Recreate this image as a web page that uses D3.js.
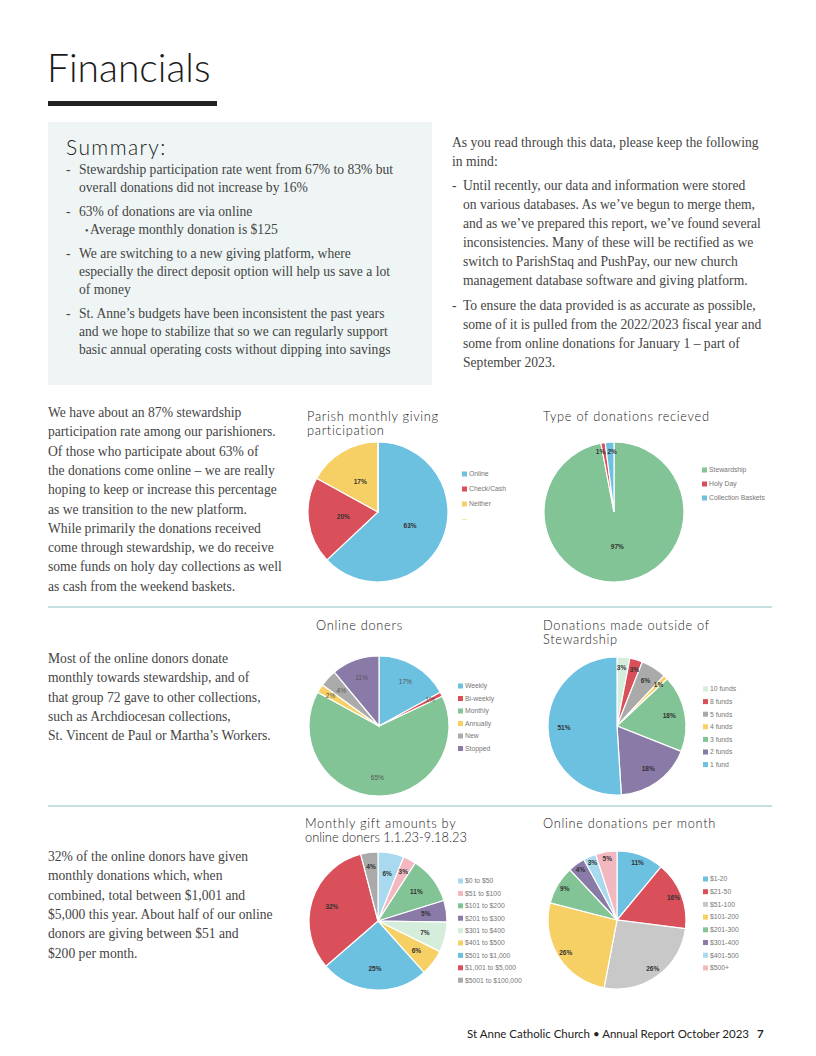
<!DOCTYPE html>
<html>
<head>
<meta charset="utf-8">
<script src="https://cdn.jsdelivr.net/npm/d3@7"></script>
<style>
    body { margin: 0; background: #fff; }
    svg { display: block; }
</style>
</head>
<body>
<div id="page"></div>
<script>
// chart data
const parishCats = ['Online', 'Check/Cash', 'Neither', ''];
const parishVals = [63, 20, 17, 0];

const typeCats = ['Stewardship', 'Holy Day', 'Collection  Baskets'];
const typeVals = [97, 1, 2];

const freqCats = ['Weekly', 'Bi-weekly', 'Monthly', 'Annually', 'New', 'Stopped'];
const freqVals = [17, 1, 65, 2, 4, 11];

const fundCats = ['10 funds', '8 funds', '5 funds', '4   funds', '3   funds', '2   funds', '1 fund'];
const fundVals = [3, 3, 6, 1, 18, 18, 51];

const giftCats = ['$0 to $50', '$51 to $100', '$101 to $200', '$201 to $300', '$301 to $400', '$401 to $500', '$501 to $1,000', '$1,001 to $5,000', '$5001 to $100,000'];
const giftVals = [6, 3, 11, 5, 7, 6, 25, 32, 4];

const monthCats = ['$1-20', '$21-50', '$51-100', '$101-200', '$201-300', '$301-400', '$401-500', '$500+'];
const monthVals = [11, 16, 26, 26, 9, 4, 3, 5];

// colours
const c = {
    blue: '#6cc0e0', red: '#d9505a', yellow: '#f6d064', green: '#82c495',
    purple: '#8a7aa7', gray: '#aaaaaa', lgray: '#c8c8c8', lblue: '#a8d9ee',
    pink: '#f3b7bf', pale: '#d5eddb', paleY: '#f8e6a8'
};

const W = 816, H = 1056;
const svg = d3.select('#page').append('svg').attr('width', W).attr('height', H);

const serif = '"Liberation Serif", "DejaVu Serif", serif';
const sans = 'Lato, "Noto Sans", sans-serif';
const small = '"Liberation Sans", Arial, sans-serif';

// page title
svg.append('text').attr('x', 47).attr('y', 82)
    .style('font-family', sans).style('font-weight', 300).style('font-size', '39px')
    .style('fill', '#1a1a1a').text('Financials');
svg.append('rect').attr('x', 48).attr('y', 101).attr('width', 169).attr('height', 5).attr('fill', '#222');

// summary box
svg.append('rect').attr('x', 48).attr('y', 122).attr('width', 384).attr('height', 263).attr('fill', '#eef5f4');
svg.append('text').attr('x', 66).attr('y', 155)
    .style('font-family', sans).style('font-weight', 300).style('font-size', '21px').style('letter-spacing', '1.4px')
    .style('fill', '#222').text('Summary:');

function lines(arr) {
    arr.forEach(function (l) {
        let t = svg.append('text').attr('x', l[0]).attr('y', l[1])
            .style('font-family', serif).style('font-size', '13.6px').style('fill', '#444')
            .text(l[2]);
        if (l[3]) t.style('font-size', l[3]);
    });
}

lines([
    [66, 174, '-'], [79, 174, 'Stewardship participation rate went from 67% to 83% but'],
    [79, 192, 'overall donations did not increase by 16%'],
    [66, 216, '-'], [79, 216, '63% of donations are via online'],
    [85, 234, '•', '10px'], [90, 234, 'Average monthly donation is $125'],
    [66, 258, '-'], [79, 258, 'We are switching to a new giving platform, where'],
    [79, 276, 'especially the direct deposit option will help us save a lot'],
    [79, 294, 'of money'],
    [66, 318, '-'], [79, 318, 'St. Anne\u2019s budgets have been inconsistent the past years'],
    [79, 336, 'and we hope to stabilize that so we can regularly support'],
    [79, 354, 'basic annual operating costs without dipping into savings']
]);

lines([
    [452, 147, 'As you read through this data, please keep the following'],
    [452, 166, 'in mind:'],
    [452, 190, '-'], [463, 190, 'Until recently, our data and information were stored'],
    [463, 209, 'on various databases. As we\u2019ve begun to merge them,'],
    [463, 228, 'and as we\u2019ve prepared this report, we\u2019ve found several'],
    [463, 247, 'inconsistencies. Many of these will be rectified as we'],
    [463, 266, 'switch to ParishStaq and PushPay, our new church'],
    [463, 285, 'management database software and giving platform.'],
    [452, 310, '-'], [463, 310, 'To ensure the data provided is as accurate as possible,'],
    [463, 329, 'some of it is pulled from the 2022/2023  fiscal year and'],
    [463, 348, 'some from online donations for January 1 \u2013 part of'],
    [463, 367, 'September 2023.']
]);

// left column paragraphs
const para1 = ['We have about an 87% stewardship', 'participation rate among our parishioners.',
    'Of those who participate  about 63% of', 'the donations come online \u2013 we are really',
    'hoping to keep or increase this percentage', 'as we transition to the new platform.',
    'While primarily  the donations received', 'come through stewardship, we do receive',
    'some funds on holy day collections  as well', 'as cash from the weekend baskets.'];
const para2 = ['Most of the online  donors donate', 'monthly towards stewardship, and  of',
    'that group 72 gave to other collections,', 'such as Archdiocesan collections,',
    'St. Vincent de  Paul or Martha\u2019s Workers.'];
const para3 = ['32% of the online donors have given', 'monthly donations which, when',
    'combined, total between $1,001  and', '$5,000 this year. About half of our online',
    'donors are giving between $51 and', '$200 per month.'];

lines(para1.map(function (t, i) { return [48, 417 + i * 19.3, t]; }));
lines(para2.map(function (t, i) { return [48, 663 + i * 19.3, t]; }));
lines(para3.map(function (t, i) { return [48, 861 + i * 19.3, t]; }));

// separators
[607, 806].forEach(function (y) {
    svg.append('line').attr('x1', 48).attr('x2', 772).attr('y1', y).attr('y2', y)
        .attr('stroke', '#8cc0c1').attr('stroke-width', 1);
});

// footer
svg.append('text').attr('x', 749).attr('y', 1038).attr('text-anchor', 'end')
    .style('font-family', sans).style('font-size', '11.5px').style('fill', '#222')
    .text('St Anne Catholic Church \u2022 Annual Report October 2023');
svg.append('text').attr('x', 757).attr('y', 1038)
    .style('font-family', sans).style('font-size', '11.5px').style('font-weight', 'bold').style('fill', '#222')
    .text('7');

function pieChart(cfg) {
    let g = svg.append('g');

    cfg.title.forEach(function (t, i) {
        let sp = cfg.titleSpacing ? cfg.titleSpacing[i] : 0.7;
        g.append('text').attr('x', cfg.tx).attr('y', cfg.ty + i * 14)
            .style('font-family', sans).style('font-weight', 300).style('font-size', '12.8px').style('letter-spacing', sp + 'px')
            .style('fill', '#222').text(t);
    });

    let pie = d3.pie().sort(null);
    let arcs = pie(cfg.vals);
    let arc = d3.arc().innerRadius(0).outerRadius(cfg.r);

    let pg = g.append('g').attr('transform', 'translate(' + cfg.cx + ',' + cfg.cy + ')');
    pg.selectAll('path').data(arcs).enter().append('path')
        .attr('d', arc)
        .attr('fill', function (d, i) { return cfg.colors[i]; })
        .attr('stroke', '#fff').attr('stroke-width', 1.2);

    let nudge = cfg.nudge || {};
    pg.selectAll('text').data(arcs.filter(function (d) { return d.value > 0; })).enter().append('text')
        .attr('transform', function (d) {
            let f = d.value <= cfg.smallMax ? cfg.smallR : cfg.labelR;
            let la = d3.arc().innerRadius(cfg.r * f).outerRadius(cfg.r * f);
            let p = la.centroid(d);
            let n = nudge[d.index] || [0, 0];
            return 'translate(' + (p[0] + n[0]) + ',' + (p[1] + n[1]) + ')';
        })
        .attr('dy', '0.35em').attr('text-anchor', 'middle')
        .style('font-family', small).style('font-size', '6.5px')
        .style('font-weight', cfg.lightLabels ? 'normal' : 'bold')
        .style('fill', cfg.lightLabels ? '#555' : '#333')
        .text(function (d) { return d.value + '%'; });

    let lg = g.append('g').attr('transform', 'translate(' + cfg.lx + ',' + cfg.ly + ')');
    let items = lg.selectAll('g').data(cfg.cats).enter().append('g')
        .attr('transform', function (d, i) { return 'translate(0,' + i * cfg.step + ')'; });
    items.append('rect').attr('x', 0)
        .attr('y', function (d, i) { return cfg.vals[i] > 0 ? -2.5 : 0; })
        .attr('width', 5)
        .attr('height', function (d, i) { return cfg.vals[i] > 0 ? 5 : 1; })
        .attr('fill', function (d, i) { return cfg.vals[i] > 0 ? cfg.colors[i] : cfg.emptyColor; });
    items.append('text').attr('x', 7).attr('dy', '0.35em')
        .style('font-family', small).style('font-size', '6.8px').style('fill', '#777')
        .text(function (d) { return d; });
}

pieChart({
    title: ['Parish monthly giving', 'participation'], tx: 307, ty: 421,
    cats: parishCats, vals: parishVals, colors: [c.blue, c.red, c.yellow, c.paleY], emptyColor: c.paleY,
    cx: 378, cy: 512, r: 70, labelR: 0.5, smallR: 0.5, smallMax: 0,
    lx: 462, ly: 474, step: 15
});

pieChart({
    title: ['Type of donations recieved'], tx: 543, ty: 421,
    cats: typeCats, vals: typeVals, colors: [c.green, c.red, c.blue],
    cx: 614, cy: 512, r: 70, labelR: 0.5, smallR: 0.87, smallMax: 3,
    lx: 702, ly: 470, step: 14, nudge: { 1: [-4, 0], 2: [2, 0] }
});

pieChart({
    title: ['Online doners'], tx: 316, ty: 630,
    cats: freqCats, vals: freqVals, colors: [c.blue, c.red, c.green, c.yellow, c.gray, c.purple],
    cx: 379, cy: 726, r: 70, labelR: 0.74, smallR: 0.82, smallMax: 2, lightLabels: true,
    lx: 458, ly: 686, step: 12.5
});

pieChart({
    title: ['Donations made outside of', 'Stewardship'], tx: 543, ty: 630,
    cats: fundCats, vals: fundVals, colors: [c.pale, c.red, c.gray, c.yellow, c.green, c.purple, c.blue],
    cx: 617, cy: 726, r: 69, labelR: 0.77, smallR: 0.85, smallMax: 3,
    lx: 703, ly: 689, step: 12.6, nudge: { 0: [-1, 0], 1: [1, 0] }
});

pieChart({
    title: ['Monthly gift amounts by', 'online doners 1.1.23-9.18.23'], tx: 305, ty: 828, titleSpacing: [0.7, 0],
    cats: giftCats, vals: giftVals,
    colors: [c.lblue, c.pink, c.green, c.purple, c.pale, c.yellow, c.blue, c.red, c.gray],
    cx: 378, cy: 921, r: 69, labelR: 0.7, smallR: 0.8, smallMax: 4,
    lx: 458, ly: 881, step: 12.4
});

pieChart({
    title: ['Online donations per month'], tx: 543, ty: 828,
    cats: monthCats, vals: monthVals,
    colors: [c.blue, c.red, c.lgray, c.yellow, c.green, c.purple, c.lblue, c.pink],
    cx: 617, cy: 920, r: 69, labelR: 0.88, smallR: 0.9, smallMax: 5,
    lx: 703, ly: 879, step: 12.7
});
</script>
</body>
</html>
